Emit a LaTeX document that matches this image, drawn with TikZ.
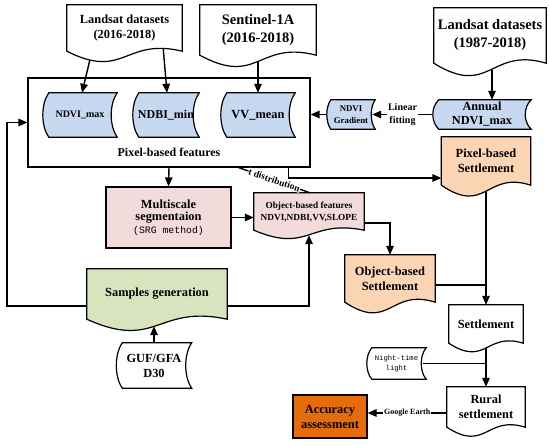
\documentclass[tikz,border=0pt]{standalone}
\usepackage{fontspec}
\setmainfont{Liberation Serif}
\setmonofont{Liberation Mono}
\usetikzlibrary{arrows.meta,positioning,calc,backgrounds}
\definecolor{fblue}{HTML}{C6D9F1}
\definecolor{fpink}{HTML}{F2DCDB}
\definecolor{forange}{HTML}{FCD5B5}
\definecolor{fgreen}{HTML}{D7E4BD}
\definecolor{fdark}{HTML}{E46C0A}
\tikzset{
  shp/.style={draw=black,line width=1.2pt},
  box/.style={shp,align=center,inner sep=2pt},
  txt/.style={align=center,inner sep=1pt,font=\bfseries\fontsize{12.4}{15}\selectfont},
  bigtxt/.style={txt,font=\bfseries\fontsize{14.5}{18}\selectfont},
  smltxt/.style={txt,font=\bfseries\fontsize{9.3}{12}\selectfont},
  monotxt/.style={txt,font=\ttfamily\fontsize{7.2}{10}\selectfont},
  sz/.style 2 args={minimum width=#1pt,minimum height=#2pt},
  arr/.style={-{Triangle[length=9pt,width=7.5pt]},line width=1.4pt},
  ln/.style={line width=1.4pt},
  lbl/.style={fill=white,inner sep=1pt,align=center,font=\bfseries\fontsize{8}{10}\selectfont},
}
% document shape: node box is the upper part, the wave hangs below it
\newcommand{\docshape}[2]{%
  \draw[shp,fill=#2] let \p1=(#1.north west), \p2=(#1.south east), \n1={\y1-\y2}, \n2={0.5*(\x1+\x2)} in
    (\p1) -- (\x2,\y1) -- (\p2) .. controls (\n2,{\y2+0.3*\n1}) and (\n2,{\y2-0.63*\n1}) .. (\x1,\y2) -- cycle;}
% stored-data shape: both sides bent like "("
\newcommand{\storshape}[3]{%
  \draw[shp,fill=#2] let \p1=(#1.north west), \p2=(#1.south east), \n1={\y1-\y2} in
    ({\x1+#3pt},\y1) -- (\x2,\y1) .. controls ({\x2-1.33*#3pt},{\y1-0.25*\n1}) and ({\x2-1.33*#3pt},{\y2+0.25*\n1}) .. (\x2,\y2)
    -- ({\x1+#3pt},\y2) .. controls ({\x1-0.33*#3pt},{\y2+0.25*\n1}) and ({\x1-0.33*#3pt},{\y1-0.25*\n1}) .. ({\x1+#3pt},\y1) -- cycle;}
\begin{document}
\begin{tikzpicture}[x=1pt,y=-1pt]
  \useasboundingbox (0,0) rectangle (550,446);
  % inputs
  \node[txt,sz={115}{46}] (ls1) at (124.5,28) {Landsat datasets\\(2016-2018)};
  \node[bigtxt,sz={116}{50}] (s1a) at (258,30) {Sentinel-1A\\(2016-2018)};
  \node[bigtxt,sz={112}{55}] (ls2) at (490,35.5) {Landsat datasets\\(1987-2018)};
  % pixel-based features
  \node[box,sz={282}{89}] (pix) at (169,122.5) {};
  \node[txt,font=\bfseries\fontsize{12}{14}\selectfont] (pixt) at (169,152) {Pixel-based features};
  \node[txt,font=\bfseries\fontsize{10}{12}\selectfont,sz={74}{44}] (ndvi) at (80,115) {NDVI\_max};
  \node[txt,font=\bfseries\fontsize{12}{14}\selectfont,sz={66}{44}] (ndbi) at (166,115) {NDBI\_min};
  \node[txt,sz={74}{44}] (vv) at (258,115) {VV\_mean};
  \node[txt,font=\bfseries\fontsize{8.8}{12.5}\selectfont,sz={48}{29}] (grad) at (351,114.5) {NDVI\\Gradient};
  \node[txt,font=\bfseries\fontsize{12.3}{14}\selectfont,sz={98}{29}] (ann) at (482,114.5) {Annual\\NDVI\_max};
  \node[txt,sz={89}{48}] (pset) at (486,161) {Pixel-based\\Settlement};
  % object-based part
  \node[txt,box,fill=fpink,font=\bfseries\fontsize{12.4}{12.5}\selectfont,sz={125}{61}] (seg) at (168.5,217.5) {Multiscale\\segmentaion\\{\mdseries\ttfamily\fontsize{9.8}{12.5}\selectfont (SRG method)}};
  \node[smltxt,sz={110}{37}] (objf) at (309,211.5) {Object-based features\\NDVI,NDBI,VV,SLOPE};
  \node[txt,sz={90}{47}] (oset) at (390,278.5) {Object-based\\Settlement};
  \node[txt,sz={140}{50}] (samp) at (157,294) {Samples generation};
  \node[txt,sz={75}{45}] (guf) at (154,365.5) {GUF/GFA\\D30};
  % settlement and assessment
  \node[txt,sz={74}{38}] (sett) at (486,324) {Settlement};
  \node[monotxt,sz={59}{31}] (night) at (396.5,363.5) {Night-time\\light};
  \node[txt,sz={78}{40}] (rur) at (486,407) {Rural\\settlement};
  \node[txt,box,fill=fdark,sz={74}{43}] (acc) at (330,416.5) {Accuracy\\assessment};
  \begin{scope}[on background layer]
    \fill[white] (0,0) rectangle (550,446);
    \foreach \nd in {ndvi,ndbi,vv,ann} \storshape{\nd}{fblue}{6};
    \storshape{grad}{fblue}{4};
    \storshape{guf}{white}{6};
    \storshape{night}{white}{5};
    \foreach \nd/\cl in {ls1/white,s1a/white,ls2/white,pset/forange,objf/fpink,oset/forange,samp/fgreen,sett/white,rur/white} \docshape{\nd}{\cl};
  \end{scope}
  % connectors
  \coordinate (lj) at ($(ls2.south)+(2,7)$);
  \coordinate (pj) at ($(pix.south east)+(-22,0)$);
  \coordinate (oj) at ($(oset.east)+(0,6.5)$);
  \coordinate (gj) at ($(rur.west)+(0,6)$);
  \draw[arr] ($(ls1.south west)+(23,9)$) -- ($(ndvi.north)+(2,0)$);
  \draw[arr] ($(ls1.south east)+(-19,-3)$) -- ($(ndbi.north)+(1,0)$);
  \draw[arr] ($(s1a.south)+(0,6.5)$) -- (vv.north);
  \draw[arr] (lj) -- (lj |- ann.north);
  \draw[arr] (ann.west) -- node[lbl,font=\bfseries\fontsize{10}{12.5}\selectfont]{Linear\\fitting} ($(grad.east)+(-3,0)$);
  \draw[arr] (grad.west) -- (grad.west -| pix.east);
  \draw[arr] (pix.south) -- (seg.north);
  \draw[arr] (pj) |- ($(pset.west)+(0,17)$);
  \draw[ln] ($(pix.south east)+(-72,0)$) -- node[lbl,sloped,inner sep=0.5pt,font=\bfseries\fontsize{9.5}{11}\selectfont]{t distribution} ($(objf.north)+(1,0)$);
  \draw[arr] (seg.east) -- (seg.east -| objf.west);
  \draw[arr] ($(samp.east)+(0,12)$) -| ($(objf.south)+(0,5)$);
  \draw[arr] ($(samp.west)+(0,12)$) -- ++(-80,0) |- (pix.west);
  \draw[arr] (guf.north) -- ($(samp.south)+(-3,7)$);
  \draw[arr] ($(objf.east)+(0,11.5)$) -| (oset.north);
  \draw[arr] ($(pset.south)+(0,6)$) -- (sett.north);
  \draw[ln] (oj) -- (oj -| sett.north);
  \draw[arr] ($(sett.south)+(0,5)$) -- (rur.north);
  \draw[ln] ($(night.east)+(-3,0)$) -- (night.east -| rur.north);
  \draw[arr] (gj) -- node[lbl]{Google Earth} (gj -| acc.east);
\end{tikzpicture}
\end{document}
